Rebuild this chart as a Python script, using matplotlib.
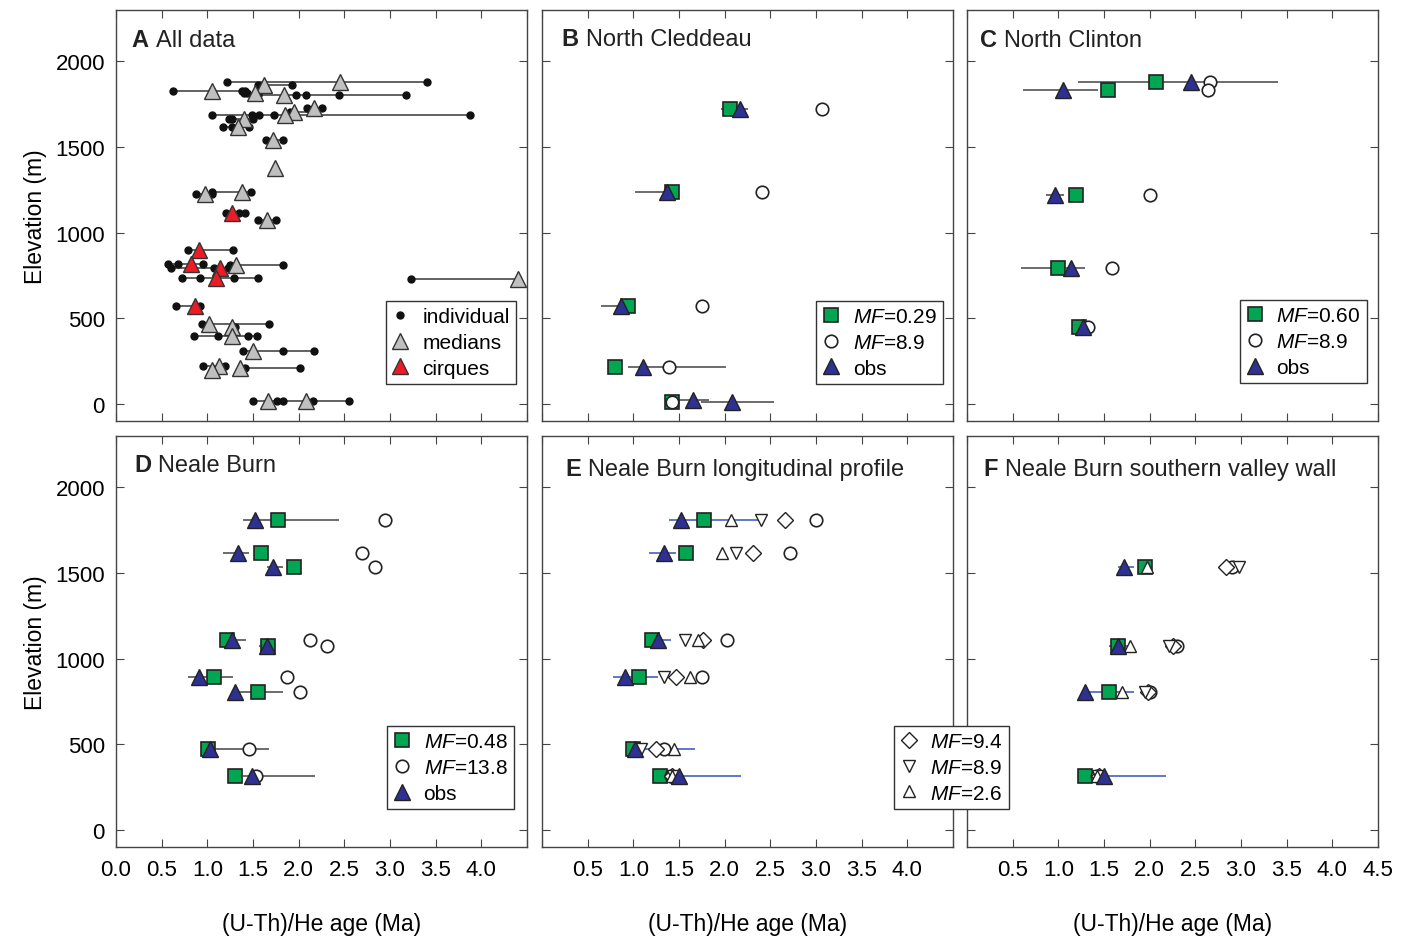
import numpy as np
import matplotlib
matplotlib.use('Agg')
import matplotlib.pyplot as plt

plt.rcParams['font.family'] = ['Liberation Sans', 'DejaVu Sans']
plt.rcParams['mathtext.fontset'] = 'custom'
plt.rcParams['mathtext.rm'] = 'Liberation Sans'
plt.rcParams['mathtext.it'] = 'Liberation Sans:italic'

GREEN = '#00a651'
NAVY = '#2e3192'
RED = '#ed1c24'
GREY = '#c0c0c0'
EDGE = '#222222'
BAR_BLUE = '#3355bb'
nan = np.nan

# ---- A: all data (elevation, individual ages, median, cirque?) ----
a_elev = [1879, 1860, 1828, 1816, 1805, 1725, 1705, 1688, 1661, 1616,
          1538, 1377, 1226, 1236, 1116, 1071, 896, 818, 812, 794,
          734, 731, 574, 467, 448, 399, 311, 224, 200, 207, 19, 19]
a_ind = [[1.22, 3.41], [1.55, 1.93], [0.62, 1.05, 1.38, 1.41], [1.40, 1.43],
         [1.55, 1.97, 2.08, 2.44, 3.17], [2.09, 2.26], [1.90, 2.15],
         [1.05, 1.49, 1.57, 1.73, 3.88], [1.24, 1.27, 1.50], [1.17, 1.27, 1.46],
         [1.64, 1.83], [], [0.88, 1.05], [1.05, 1.48],
         [1.20, 1.35, 1.41], [1.56, 1.75], [0.79, 1.28], [0.57, 0.68, 0.95],
         [1.25, 1.83], [0.60, 1.07, 1.23],
         [0.72, 0.92, 1.29, 1.55], [3.23], [0.66, 0.92], [0.94, 1.67], [1.30],
         [0.85, 1.12, 1.44, 1.54], [1.39, 1.83, 2.17], [0.95, 1.19], [],
         [1.41, 2.02], [1.50, 1.76], [1.83, 2.16, 2.55]]
a_med = [2.45, 1.62, 1.05, 1.52, 1.84, 2.17, 1.95, 1.85, 1.40, 1.34,
         1.72, 1.74, 0.97, 1.38, 1.275, 1.65, 0.91, 0.82, 1.31, 1.14,
         1.10, 4.40, 0.87, 1.02, 1.27, 1.27, 1.50, 1.13, 1.05, 1.36, 1.66, 2.08]
a_cirque = [0, 0, 0, 0, 0, 0, 0, 0, 0, 0,
            0, 0, 0, 0, 1, 0, 1, 1, 0, 1,
            1, 0, 1, 0, 0, 0, 0, 0, 0, 0, 0, 0]

# ---- B: North Cleddeau ----
b_elev = [1719, 1236, 574, 218, 13, 25]
b_obs = [2.17, 1.37, 0.86, 1.11, 2.08, 1.65]
b_lo = [1.96, 1.02, 0.65, 0.94, 1.74, 1.43]
b_hi = [2.26, 1.42, 0.94, 2.01, 2.54, 1.83]
b_low_mf = [2.06, 1.42, 0.94, 0.80, 1.42, nan]
b_high_mf = [3.07, 2.41, 1.75, 1.39, 1.42, nan]

# ---- C: North Clinton ----
c_elev = [1879, 1830, 1221, 792, 448]
c_obs = [2.45, 1.05, 0.96, 1.14, 1.27]
c_lo = [1.21, 0.61, 0.86, 0.59, 1.25]
c_hi = [3.41, 1.43, 1.06, 1.29, 1.30]
c_low_mf = [2.07, 1.54, 1.19, 1.00, 1.23]
c_high_mf = [2.66, 2.64, 2.00, 1.59, 1.33]

# ---- D: Neale Burn ----
d_elev = [1808, 1614, 1537, 1109, 1074, 893, 806, 472, 317]
d_obs = [1.52, 1.34, 1.72, 1.27, 1.65, 0.91, 1.30, 1.03, 1.49]
d_lo = [1.39, 1.17, 1.65, 1.21, 1.57, 0.79, 1.31, 0.97, 1.39]
d_hi = [2.44, 1.46, 1.83, 1.42, 1.74, 1.28, 1.83, 1.68, 2.18]
d_low_mf = [1.77, 1.59, 1.95, 1.21, 1.66, 1.07, 1.56, 1.01, 1.30]
d_high_mf = [2.95, 2.69, 2.84, 2.12, 2.31, 1.87, 2.01, 1.46, 1.53]

# ---- E: Neale Burn longitudinal profile ----
e_elev = [1808, 1614, 1109, 893, 472, 317]
e_obs = [1.52, 1.34, 1.27, 0.91, 1.02, 1.50]
e_lo = [1.39, 1.17, 1.20, 0.78, 0.93, 1.43]
e_hi = [2.42, 1.47, 1.41, 1.27, 1.67, 2.18]
e_low_mf = [1.77, 1.58, 1.20, 1.06, 1.00, 1.29]
e_high_mf = [3.00, 2.71, 2.03, 1.75, 1.34, 1.41]
e_mf94 = [2.66, 2.31, 1.76, 1.47, 1.25, 1.42]
e_mf89 = [2.40, 2.12, 1.57, 1.34, 1.08, 1.43]
e_mf26 = [2.07, 1.97, 1.71, 1.62, 1.44, 1.42]

# ---- F: Neale Burn southern valley wall ----
f_elev = [1537, 1074, 806, 317]
f_obs = [1.72, 1.65, 1.29, 1.50]
f_lo = [1.65, 1.55, 1.30, 1.43]
f_hi = [1.83, 1.76, 1.83, 2.18]
f_low_mf = [1.95, 1.65, 1.56, 1.29]
f_high_mf = [2.90, 2.30, 2.00, 1.42]
f_mf94 = [2.84, 2.25, 1.98, 1.44]
f_mf89 = [2.98, 2.21, 1.95, 1.43]
f_mf26 = [1.97, 1.79, 1.70, 1.42]

x_ticks = [0.0, 0.5, 1.0, 1.5, 2.0, 2.5, 3.0, 3.5, 4.0, 4.5]
y_ticks = [0, 500, 1000, 1500, 2000]

W, H = 1410, 937
fig = plt.figure(figsize=(W / 100, H / 100), dpi=100)

leg_kw = dict(fontsize=15, frameon=True, fancybox=False, edgecolor='#333333',
              framealpha=1, handlelength=0.8, handletextpad=0.65, labelspacing=0.33,
              borderpad=0.3, borderaxespad=0)

def make_ax(left_px, top_px):
    ax = fig.add_axes([left_px / W, 1 - (top_px + 411) / H, 411 / W, 411 / H])
    ax.set_xlim(0, 4.5)
    ax.set_ylim(-100, 2300)
    ax.set_xticks(x_ticks)
    ax.set_yticks(y_ticks)
    ax.tick_params(direction='in', top=True, right=True, length=6, width=0.8,
                   color='#444444', labelsize=16, labelbottom=False, labelleft=False)
    ax.tick_params(axis='x', pad=9)
    ax.tick_params(axis='y', pad=8)
    for s in ax.spines.values():
        s.set_color('#444444')
        s.set_linewidth(1.0)
    return ax

def panel_title(ax, letter, name, x, y):
    t = ax.text(x, y, letter, transform=ax.transAxes, fontsize=17,
                fontweight='bold', va='baseline', color='#222222')
    ax.annotate(name, xy=(1, 0), xycoords=t, xytext=(5, 0),
                textcoords='offset points', fontsize=17, va='bottom', color='#222222')

def draw_model(ax, elev, obs, lo, hi, low_mf, high_mf, bar_color, lab_low, lab_high,
               extra=None):
    ax.hlines(elev, lo, hi, color=bar_color, lw=1.1, zorder=2)
    ax.plot(low_mf, elev, 's', ms=10, mfc=GREEN, mec=EDGE, mew=1.2, ls='none',
            zorder=3, label=lab_low)
    ax.plot(high_mf, elev, 'o', ms=9, mfc='white', mec=EDGE, mew=1.2, ls='none',
            zorder=4, label=lab_high)
    if extra is not None:
        for vals, mk, ms in extra:
            ax.plot(vals, elev, mk, ms=ms, mfc='white', mec=EDGE, mew=1.0, ls='none', zorder=4)
    ax.plot(obs, elev, '^', ms=12, mfc=NAVY, mec=EDGE, mew=1.0, ls='none',
            zorder=5, label='obs')

def model_legend(ax, right, bottom):
    ax.legend(loc='lower right', bbox_to_anchor=(right, bottom), **leg_kw)

# ---- panel A ----
axA = make_ax(116, 11)
for e, ind, med, cq in zip(a_elev, a_ind, a_med, a_cirque):
    span = ind + [med]
    axA.hlines(e, min(span), max(span), color='#555555', lw=1.3, zorder=2)
    if ind:
        axA.plot(ind, [e] * len(ind), 'o', ms=5, color='#111111', zorder=3)
axA.plot([m for m, c in zip(a_med, a_cirque) if not c],
         [e for e, c in zip(a_elev, a_cirque) if not c], '^', ms=12,
         mfc=GREY, mec='#333333', mew=1.0, ls='none', zorder=4)
axA.plot([m for m, c in zip(a_med, a_cirque) if c],
         [e for e, c in zip(a_elev, a_cirque) if c], '^', ms=12,
         mfc=RED, mec='#333333', mew=1.0, ls='none', zorder=5)
hA = [plt.Line2D([], [], marker='o', ms=5, color='#111111', ls='none'),
      plt.Line2D([], [], marker='^', ms=12, mfc=GREY, mec='#333333', ls='none'),
      plt.Line2D([], [], marker='^', ms=12, mfc=RED, mec='#333333', ls='none')]
axA.legend(hA, ['individual', 'medians', 'cirques'], loc='lower right',
           bbox_to_anchor=(0.973, 0.09), **leg_kw)
panel_title(axA, 'A', 'All data', 0.038, 0.913)

# ---- panel B ----
axB = make_ax(542, 11)
draw_model(axB, b_elev, b_obs, b_lo, b_hi, b_low_mf, b_high_mf, '#444444',
           r'$\it{MF}$=0.29', r'$\it{MF}$=8.9')
model_legend(axB, 0.976, 0.09)
panel_title(axB, 'B', 'North Cleddeau', 0.048, 0.915)

# ---- panel C ----
axC = make_ax(967, 11)
draw_model(axC, c_elev, c_obs, c_lo, c_hi, c_low_mf, c_high_mf, '#444444',
           r'$\it{MF}$=0.60', r'$\it{MF}$=8.9')
model_legend(axC, 0.973, 0.092)
panel_title(axC, 'C', 'North Clinton', 0.032, 0.913)

# ---- panel D ----
axD = make_ax(116, 437)
draw_model(axD, d_elev, d_obs, d_lo, d_hi, d_low_mf, d_high_mf, '#444444',
           r'$\it{MF}$=0.48', r'$\it{MF}$=13.8')
model_legend(axD, 0.968, 0.092)
panel_title(axD, 'D', 'Neale Burn', 0.044, 0.914)

# ---- panel E ----
axE = make_ax(542, 437)
extraE = [(e_mf94, 'D', 8), (e_mf89, 'v', 9), (e_mf26, '^', 9)]
draw_model(axE, e_elev, e_obs, e_lo, e_hi, e_low_mf, e_high_mf, BAR_BLUE,
           None, None, extra=extraE)
panel_title(axE, 'E', 'Neale Burn longitudinal profile', 0.056, 0.906)

# ---- panel F ----
axF = make_ax(967, 437)
extraF = [(f_mf94, 'D', 8), (f_mf89, 'v', 9), (f_mf26, '^', 9)]
draw_model(axF, f_elev, f_obs, f_lo, f_hi, f_low_mf, f_high_mf, BAR_BLUE,
           None, None, extra=extraF)
panel_title(axF, 'F', 'Neale Burn southern valley wall', 0.040, 0.906)

hE = [plt.Line2D([], [], marker='D', ms=8, mfc='white', mec=EDGE, ls='none'),
      plt.Line2D([], [], marker='v', ms=9, mfc='white', mec=EDGE, ls='none'),
      plt.Line2D([], [], marker='^', ms=9, mfc='white', mec=EDGE, ls='none')]
fig.legend(hE, [r'$\it{MF}$=9.4', r'$\it{MF}$=8.9', r'$\it{MF}$=2.6'],
           loc='lower left', bbox_to_anchor=(894 / W, 1 - 810 / H), **leg_kw)

# tick labels on outer axes
axA.tick_params(labelleft=True)
axD.tick_params(labelleft=True, labelbottom=True)
axE.tick_params(labelbottom=True)
axF.tick_params(labelbottom=True)
axD.set_xticklabels(['0.0', '0.5', '1.0', '1.5', '2.0', '2.5', '3.0', '3.5', '4.0', ''])
axE.set_xticklabels(['', '0.5', '1.0', '1.5', '2.0', '2.5', '3.0', '3.5', '4.0', ''])
axF.set_xticklabels(['', '0.5', '1.0', '1.5', '2.0', '2.5', '3.0', '3.5', '4.0', '4.5'])

for ax in (axA, axD):
    ax.set_ylabel('Elevation (m)', fontsize=16.5, labelpad=6)
for ax in (axD, axE, axF):
    ax.set_xlabel('(U-Th)/He age (Ma)', fontsize=16.5, labelpad=23)

fig.savefig('out.png', dpi=100)
